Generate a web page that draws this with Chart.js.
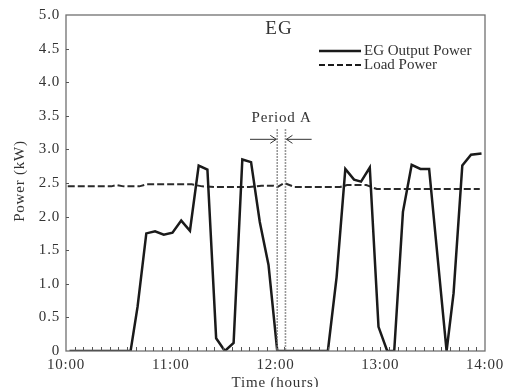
<!DOCTYPE html>
<html>
<head>
<meta charset="utf-8">
<script src="https://cdn.jsdelivr.net/npm/chart.js@4.4.1/dist/chart.umd.min.js"></script>
<style>
  html, body { margin: 0; padding: 0; background: #fff; }
</style>
</head>
<body>
<canvas id="myChart" width="508" height="387"></canvas>
<script>
// time is in minutes after 10:00
const egMinutes = [2, 37, 41, 46, 51, 56, 61, 66, 71, 76, 81, 86, 91, 96, 101, 106, 111, 116, 121,
                   150, 155, 160, 165, 169, 174, 179, 184, 188, 193, 198, 203, 208, 218, 222, 227, 232, 238];
const egPower = [0, 0, 0.66, 1.75, 1.78, 1.73, 1.76, 1.94, 1.79, 2.76, 2.70, 0.19, 0, 0.12, 2.85, 2.81, 1.92, 1.28, 0,
                 0, 1.10, 2.71, 2.55, 2.52, 2.73, 0.36, 0, 0, 2.07, 2.77, 2.71, 2.71, 0, 0.86, 2.76, 2.92, 2.94];

const loadMinutes = [1, 26, 29, 33, 42, 46, 72, 78, 86, 105, 112, 119, 121, 125, 131, 157, 161, 172, 178, 237];
const loadPower = [2.45, 2.45, 2.47, 2.45, 2.45, 2.48, 2.48, 2.45, 2.44, 2.44, 2.46, 2.46, 2.44, 2.50, 2.44, 2.44, 2.47, 2.47, 2.41, 2.41];

const hourLabels = ['10:00', '11:00', '12:00', '13:00', '14:00'];
const periodA = [121, 125.7];

const serif = "'Liberation Serif', 'Times New Roman', serif";

function toPoints(xs, ys) {
    return xs.map((m, i) => ({ x: m, y: ys[i] }));
}

// frame, inner ticks, legend and the Period A marks
const decor = {
    id: 'decor',
    beforeDraw(chart) {
        chart.ctx.letterSpacing = '0.8px';
    },
    afterDraw(chart) {
        const { ctx, chartArea: a, scales: { x, y } } = chart;
        ctx.save();

        // box round the plot
        ctx.strokeStyle = '#707070';
        ctx.lineWidth = 1.3;
        ctx.strokeRect(a.left, a.top, a.right - a.left, a.bottom - a.top);

        // small ticks pointing inside
        ctx.strokeStyle = '#555';
        ctx.lineWidth = 1;
        ctx.beginPath();
        for (let m = 5; m < 240; m += 5) {
            const px = Math.round(x.getPixelForValue(m)) + 0.5;
            ctx.moveTo(px, a.bottom);
            ctx.lineTo(px, a.bottom - 4);
        }
        for (let v = 0.5; v < 5; v += 0.5) {
            const py = Math.round(y.getPixelForValue(v)) + 0.5;
            ctx.moveTo(a.left, py);
            ctx.lineTo(a.left + 3, py);
        }
        ctx.stroke();

        // Period A dotted lines
        ctx.strokeStyle = '#777';
        ctx.lineWidth = 1.6;
        ctx.setLineDash([1.5, 1.5]);
        ctx.beginPath();
        periodA.forEach(m => {
            const px = x.getPixelForValue(m);
            ctx.moveTo(px, y.getPixelForValue(3.3));
            ctx.lineTo(px, a.bottom);
        });
        ctx.stroke();
        ctx.setLineDash([]);

        // arrows
        const ay = y.getPixelForValue(3.15);
        const l0 = x.getPixelForValue(105.4), l1 = x.getPixelForValue(periodA[0]) - 1;
        const r0 = x.getPixelForValue(140.7), r1 = x.getPixelForValue(periodA[1]) + 1;
        ctx.strokeStyle = '#333';
        ctx.lineWidth = 1;
        ctx.beginPath();
        ctx.moveTo(l0, ay); ctx.lineTo(l1, ay);
        ctx.moveTo(l1 - 6, ay - 4); ctx.lineTo(l1, ay); ctx.lineTo(l1 - 6, ay + 4);
        ctx.moveTo(r0, ay); ctx.lineTo(r1, ay);
        ctx.moveTo(r1 + 6, ay - 4); ctx.lineTo(r1, ay); ctx.lineTo(r1 + 6, ay + 4);
        ctx.stroke();

        ctx.fillStyle = '#333';
        ctx.textAlign = 'center';
        ctx.textBaseline = 'middle';
        ctx.letterSpacing = '0.8px';
        ctx.font = '15px ' + serif;
        ctx.fillText('Period A', x.getPixelForValue(123.5), y.getPixelForValue(3.47));

        // title inside the plot
        ctx.font = '19px ' + serif;
        ctx.letterSpacing = '1px';
        ctx.fillText('EG', x.getPixelForValue(122), y.getPixelForValue(4.79));

        // legend
        const lx0 = 319, lx1 = 361;
        ctx.strokeStyle = '#1a1a1a';
        ctx.lineWidth = 2.5;
        ctx.beginPath(); ctx.moveTo(lx0, 51); ctx.lineTo(lx1, 51); ctx.stroke();
        ctx.lineWidth = 2;
        ctx.setLineDash([6, 3]);
        ctx.beginPath(); ctx.moveTo(lx0, 65); ctx.lineTo(lx1, 65); ctx.stroke();
        ctx.setLineDash([]);
        ctx.textAlign = 'left';
        ctx.font = '15px ' + serif;
        ctx.letterSpacing = '0px';
        ctx.fillText('EG Output Power', 364, 51);
        ctx.fillText('Load Power', 364, 65);

        // axis titles
        ctx.letterSpacing = '0.8px';
        ctx.font = '15px ' + serif;
        ctx.textAlign = 'center';
        ctx.textBaseline = 'alphabetic';
        ctx.fillText('Time (hours)', (a.left + a.right) / 2, 387);
        ctx.translate(20, 181);
        ctx.rotate(-Math.PI / 2);
        ctx.textBaseline = 'middle';
        ctx.fillText('Power (kW)', 0, 0);

        ctx.restore();
    }
};

const ctx = document.getElementById('myChart').getContext('2d');
const myChart = new Chart(ctx, {
    type: 'line',
    data: {
        datasets: [{
            label: 'EG Output Power',
            data: toPoints(egMinutes, egPower),
            borderColor: '#1a1a1a',
            borderWidth: 2.5,
            pointRadius: 0,
            tension: 0,
            fill: false
        }, {
            label: 'Load Power',
            data: toPoints(loadMinutes, loadPower),
            borderColor: '#2a2a2a',
            borderWidth: 2,
            borderDash: [7, 3],
            pointRadius: 0,
            tension: 0,
            fill: false
        }]
    },
    options: {
        responsive: false,
        animation: false,
        layout: { padding: { top: 14, right: 23, left: 0, bottom: 0 } },
        plugins: {
            legend: { display: false },
            tooltip: { enabled: false }
        },
        scales: {
            x: {
                type: 'linear',
                min: 0,
                max: 240,
                afterFit: s => { s.height = 36; },
                grid: { display: false, drawTicks: false },
                border: { display: false },
                ticks: {
                    stepSize: 60,
                    autoSkip: false,
                    maxRotation: 0,
                    padding: 5,
                    color: '#333',
                    font: { family: serif, size: 15 },
                    callback: v => hourLabels[v / 60]
                }
            },
            y: {
                min: 0,
                max: 5,
                afterFit: s => { s.width = 66; },
                grid: { display: false, drawTicks: false },
                border: { display: false },
                ticks: {
                    stepSize: 0.5,
                    padding: 6,
                    color: '#333',
                    font: { family: serif, size: 15 },
                    callback: v => v === 0 ? '0' : v.toFixed(1)
                }
            }
        }
    },
    plugins: [decor]
});
</script>
</body>
</html>
